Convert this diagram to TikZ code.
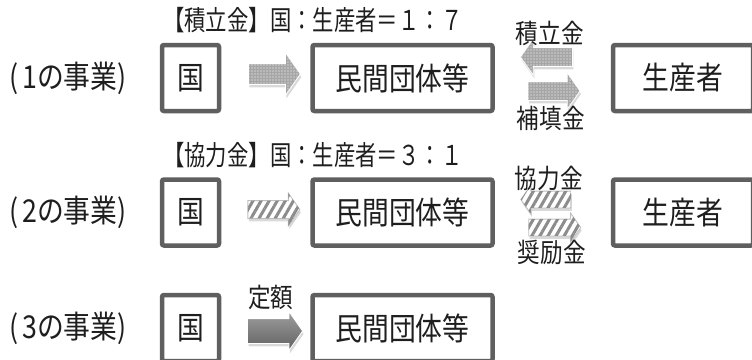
\documentclass[tikz,border=0pt]{standalone}
\usepackage{fontspec}
\usepackage{tikz}
\usetikzlibrary{shapes.arrows, positioning, calc, patterns.meta, shadows}
\newfontfamily\jpfont[FakeStretch=0.85]{Noto Sans CJK JP}
\newfontfamily\jpnarrow[FakeStretch=0.78]{Noto Sans CJK JP}
\newcommand{\jpL}{\jpfont\fontsize{31.5}{33}\selectfont}
\newcommand{\jpM}{\jpnarrow\fontsize{27.4}{29}\selectfont}
\newcommand{\jpS}{\jpfont\fontsize{26.6}{28}\selectfont}
\definecolor{boxgray}{RGB}{95,95,95}
\definecolor{inkgray}{RGB}{30,30,30}

\begin{document}
\begin{tikzpicture}[
                x=1pt, y=-1pt,
                box/.style={rectangle, draw=boxgray, line width=4.5pt, rounded corners=2pt, fill=white, minimum height=66pt, inner sep=0pt, font=\jpL, text=inkgray},
                rowlabel/.style={font=\jpL, text=inkgray, inner sep=0pt},
                ratio/.style={font=\jpM, text=inkgray, inner sep=0pt, anchor=west},
                money/.style={font=\jpS, text=inkgray, inner sep=0pt},
                flow/.style={single arrow, single arrow head indent=0pt, single arrow tip angle=110, inner xsep=0pt, line width=0.8pt, drop shadow={shadow xshift=1pt, shadow yshift=-3pt, opacity=0.3}},
                dotarrow/.style={flow, draw=white, fill=black!35, postaction={pattern={Dots[distance=3pt, radius=0.7pt]}, pattern color=white}},
                stripearrow/.style={flow, draw=black!25, fill=white, postaction={pattern={Lines[angle=60, distance=7pt, line width=3pt]}, pattern color=black!45}},
                plainarrow/.style={flow, draw=white, top color=black!38, bottom color=black!62}
            ]
                \useasboundingbox (0,0) rectangle (752,359);

                % boxes
                \node[box, minimum width=57pt] (kuni1) at (190.5,78) {国};
                \node[box, minimum width=180pt, right=89pt of kuni1] (min1) {民間団体等};
                \node[box, minimum width=140pt, right=116pt of min1] (sei1) {生産者};
                \node[box, minimum width=57pt, below=64pt of kuni1] (kuni2) {国};
                \node[box, minimum width=180pt, right=89pt of kuni2] (min2) {民間団体等};
                \node[box, minimum width=140pt, right=116pt of min2] (sei2) {生産者};
                \node[box, minimum width=57pt, below=45pt of kuni2] (kuni3) {国};
                \node[box, minimum width=180pt, right=89pt of kuni3] (min3) {民間団体等};

                % row labels
                \node[rowlabel, left=33pt of kuni1] (row1) {(\hspace{4pt}1の事業)};
                \node[rowlabel, left=33pt of kuni2] (row2) {(\hspace{4pt}2の事業)};
                \node[rowlabel, left=33pt of kuni3] (row3) {(\hspace{4pt}3の事業)};

                % ratios
                \node[ratio] (ratio1) at (163,20) {【積立金】国：生産者＝１：７};
                \node[ratio] (ratio2) at (163,155) {【協力金】国：生産者＝３：１};

                % arrows 国 -> 民間団体等
                \node[dotarrow, minimum height=52pt, minimum width=42pt, inner ysep=10pt, single arrow head extend=11pt] (flow1) at ($(kuni1.east)!0.5!(min1.west)+(5,-4)$) {};
                \node[stripearrow, minimum height=52pt, minimum width=32pt, inner ysep=8.5pt, single arrow head extend=7.5pt] (flow2) at ($(kuni2.east)!0.5!(min2.west)+(5,-3)$) {};
                \node[plainarrow, minimum height=55pt, minimum width=38pt, inner ysep=12pt, single arrow head extend=7pt] (flow3) at ($(kuni3.east)!0.5!(min3.west)+(5,3)$) {};
                \node[money, above=8pt of flow3] (teigaku) {定額};

                % arrows 民間団体等 <-> 生産者
                \node[dotarrow, shape border rotate=180, minimum height=52pt, minimum width=36pt, inner ysep=9pt, single arrow head extend=9pt] (back1) at ($(min1.east)!0.5!(sei1.west)+(-3,-21)$) {};
                \node[dotarrow, minimum height=52pt, minimum width=36pt, inner ysep=9pt, single arrow head extend=9pt] (pay1) at ($(min1.east)!0.5!(sei1.west)+(-2,13)$) {};
                \node[money, above=1pt of back1] (tsumitate) {積立金};
                \node[money, below=5pt of pay1] (hoten) {補填金};

                \node[stripearrow, shape border rotate=180, minimum height=50pt, minimum width=28pt, inner ysep=8pt, single arrow head extend=6pt] (back2) at ($(min2.east)!0.5!(sei2.west)+(-4,-13)$) {};
                \node[stripearrow, minimum height=52pt, minimum width=28pt, inner ysep=8pt, single arrow head extend=6pt] (pay2) at ($(min2.east)!0.5!(sei2.west)+(-1,15)$) {};
                \node[money, above=0pt of back2] (kyoryoku) {協力金};
                \node[money, below=4pt of pay2] (shorei) {奨励金};
            \end{tikzpicture}
\end{document}
